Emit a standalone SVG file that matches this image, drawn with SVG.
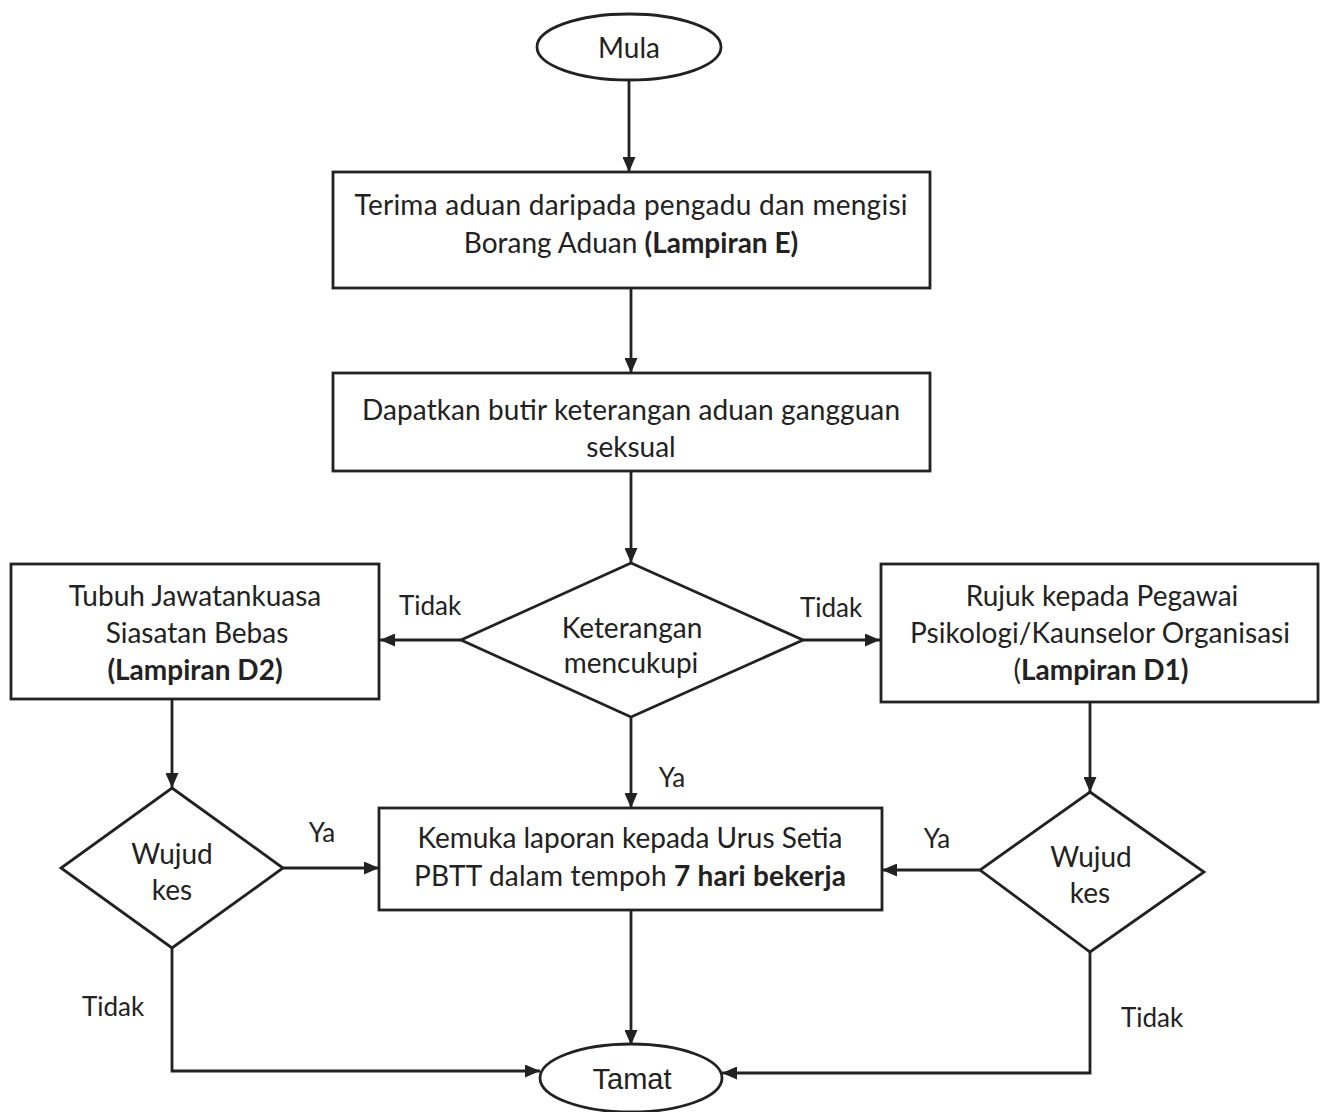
<svg xmlns="http://www.w3.org/2000/svg" width="1327" height="1112" viewBox="0 0 1327 1112">
<defs>
<marker id="ah" viewBox="0 0 15 13" refX="15" refY="6.5" markerWidth="15" markerHeight="13" markerUnits="userSpaceOnUse" orient="auto">
<path d="M0,0 L15,6.5 L0,13 Z" fill="#222"/>
</marker>
</defs>
<style>
.s{fill:#fff;stroke:#222;stroke-width:2.8}
.c{fill:none;stroke:#222;stroke-width:2.8}
.t{font-family:Lato,"Open Sans",sans-serif;font-size:28px;fill:#222;text-anchor:middle}
.b{font-weight:bold}
.l{font-family:Lato,"Open Sans",sans-serif;font-size:26px;fill:#222;text-anchor:middle}
.a{font-family:"Liberation Sans",Arial,sans-serif;font-size:29px;fill:#222;text-anchor:middle}
</style>
<rect width="1327" height="1112" fill="#fff"/>
<g id="connectors">
<path class="c" d="M629,80 L629,172" marker-end="url(#ah)"/>
<path class="c" d="M631,288 L631,373" marker-end="url(#ah)"/>
<path class="c" d="M631,471 L631,563" marker-end="url(#ah)"/>
<path class="c" d="M461,640 L380,640" marker-end="url(#ah)"/>
<path class="c" d="M803,640 L880,640" marker-end="url(#ah)"/>
<path class="c" d="M631,717 L631,808" marker-end="url(#ah)"/>
<path class="c" d="M172,699 L172,788" marker-end="url(#ah)"/>
<path class="c" d="M1090,703 L1090,792" marker-end="url(#ah)"/>
<path class="c" d="M283,868 L379,868" marker-end="url(#ah)"/>
<path class="c" d="M980,870 L882,870" marker-end="url(#ah)"/>
<path class="c" d="M631,910 L631,1045" marker-end="url(#ah)"/>
<path class="c" d="M172,948 L172,1071 L540,1071" marker-end="url(#ah)"/>
<path class="c" d="M1090,952 L1090,1073 L722,1073" marker-end="url(#ah)"/>
<text class="l" x="430" y="615">Tidak</text>
<text class="l" x="831" y="617">Tidak</text>
<text class="l" x="672" y="787">Ya</text>
<text class="l" x="322" y="842">Ya</text>
<text class="l" x="937" y="848">Ya</text>
<text class="l" x="113" y="1016">Tidak</text>
<text class="l" x="1152" y="1027">Tidak</text>
</g>
<g id="mula">
<ellipse class="s" cx="629" cy="47" rx="92" ry="33"/>
<text class="t" x="629" y="58">Mula</text>
</g>
<g id="terima">
<rect class="s" x="333" y="172" width="597" height="116"/>
<text class="t" x="631" y="215" textLength="553">Terima aduan daripada pengadu dan mengisi</text>
<text class="t" x="631" y="253">Borang Aduan <tspan class="b">(Lampiran E)</tspan></text>
</g>
<g id="dapatkan">
<rect class="s" x="333" y="373" width="597" height="98"/>
<text class="t" x="631" y="420" textLength="538">Dapatkan butir keterangan aduan gangguan</text>
<text class="t" x="631" y="457">seksual</text>
</g>
<g id="keterangan">
<polygon class="s" points="631,563 803,640 631,717 461,640"/>
<text class="t" x="632" y="638">Keterangan</text>
<text class="t" x="631" y="673">mencukupi</text>
</g>
<g id="tubuh">
<rect class="s" x="11" y="564" width="368" height="135"/>
<text class="t" x="195" y="606">Tubuh Jawatankuasa</text>
<text class="t" x="197" y="643">Siasatan Bebas</text>
<text class="t b" x="195" y="680">(Lampiran D2)</text>
</g>
<g id="rujuk">
<rect class="s" x="881" y="564" width="437" height="138"/>
<text class="t" x="1102" y="606">Rujuk kepada Pegawai</text>
<text class="t" x="1100" y="643" textLength="380">Psikologi/Kaunselor Organisasi</text>
<text class="t" x="1101" y="680">(<tspan class="b">Lampiran D1)</tspan></text>
</g>
<g id="wujud-kiri">
<polygon class="s" points="172,788 283,868 172,948 61,868"/>
<text class="t" x="172" y="864">Wujud</text>
<text class="t" x="172" y="900">kes</text>
</g>
<g id="wujud-kanan">
<polygon class="s" points="1090,792 1204,872 1090,952 980,870"/>
<text class="t" x="1091" y="867">Wujud</text>
<text class="t" x="1090" y="903">kes</text>
</g>
<g id="kemuka">
<rect class="s" x="379" y="808" width="503" height="102"/>
<text class="t" x="630" y="848" textLength="425">Kemuka laporan kepada Urus Setia</text>
<text class="t" x="630" y="886" textLength="432">PBTT dalam tempoh <tspan class="b">7 hari bekerja</tspan></text>
</g>
<g id="tamat">
<ellipse class="s" cx="631" cy="1078" rx="91" ry="34"/>
<text class="a" x="632" y="1089">Tamat</text>
</g>
</svg>
